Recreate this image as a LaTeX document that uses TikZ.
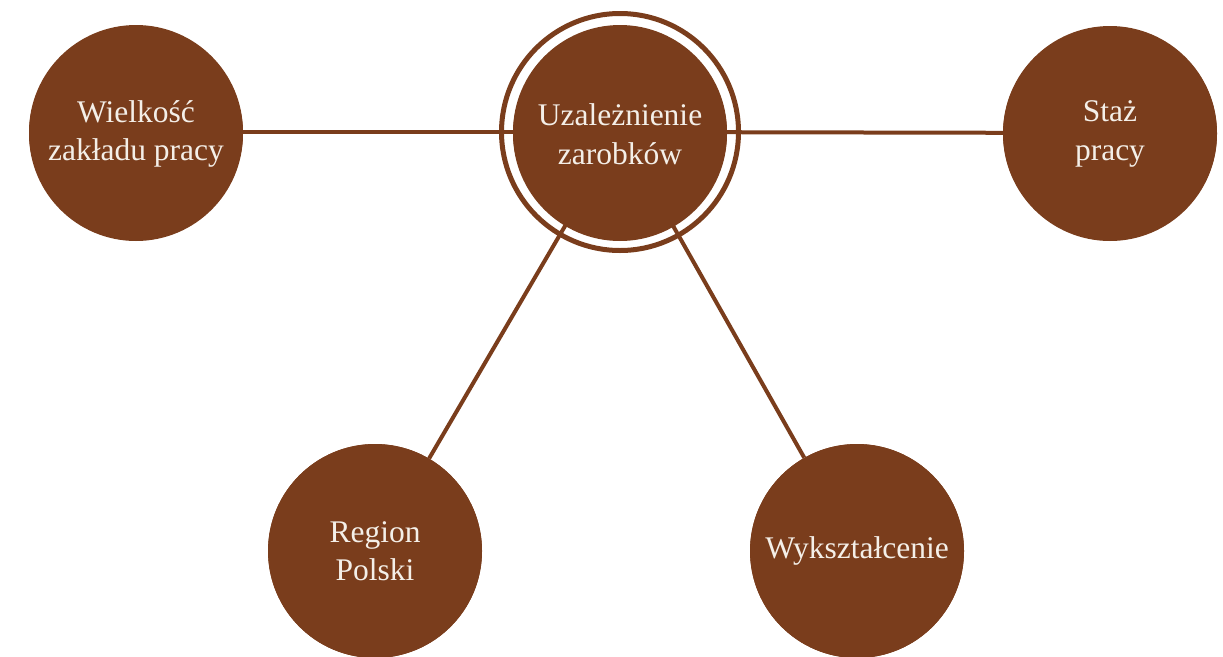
\documentclass[tikz,border=0pt]{standalone}
\usepackage{fontspec}
\setmainfont{Liberation Serif}
\definecolor{brown1}{HTML}{7A3D1C}
\definecolor{cream}{HTML}{F4EFE8}
\begin{document}
\begin{tikzpicture}[x=1pt,y=-1pt,
  ball/.style={circle,fill=brown1,minimum size=214pt,inner sep=0pt,text=cream,
    align=center,font=\fontsize{31.5}{38.5}\selectfont},
  ring/.style={circle,draw=brown1,line width=5pt,minimum size=237pt,inner sep=0pt},
  link/.style={draw=brown1,line width=4pt}]
\useasboundingbox (0,0) rectangle (1223,656);
\node[ring] (cr) at (620,132) {};
\node[ball] (c) at (620,132) {};
\node[ball] (w) at (136,132) {};
\node[ball] (s) at (1110,133) {};
\node[ball] (r) at (375,551) {};
\node[ball] (e) at (857,551) {};
\draw[link] (c) -- (w);
\draw[link] (c) -- (s);
\draw[link] (c) -- (r);
\draw[link] (c) -- (e);
\node[ball] at (620,134) {Uzależnienie\\zarobków};
\node[ball] at (136,134) {Wielkość\\zakładu pracy};
\node[ball] at (1110,134) {Staż\\pracy};
\node[ball] at (375,551) {Region\\Polski};
\node[ball] at (857,551) {Wykształcenie};
\end{tikzpicture}
\end{document}
